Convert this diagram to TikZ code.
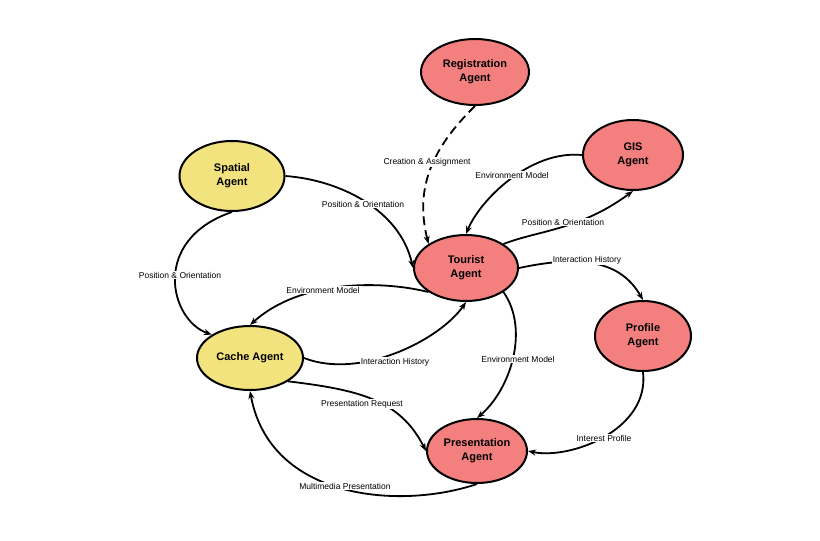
\documentclass[tikz,border=0pt]{standalone}
\usepackage{fontspec}
\setmainfont{Liberation Sans}
\usetikzlibrary{shapes.geometric,arrows.meta}
\definecolor{ag}{HTML}{F47F7F}
\definecolor{sp}{HTML}{F2E37E}
\begin{document}
\begin{tikzpicture}[x=1pt,y=-1pt,
 agent/.style={ellipse,draw=black,line width=2pt,align=center,font=\bfseries\fontsize{11}{14}\selectfont,inner sep=0pt},
 red/.style={agent,fill=ag},
 yel/.style={agent,fill=sp},
 e/.style={-{Stealth[length=8pt,width=6pt]},line width=1.8pt},
 lb/.style={fill=white,inner sep=1pt,font=\fontsize{8.5}{10}\selectfont}]
\useasboundingbox (0,0) rectangle (820,541);
\node[red,minimum width=108,minimum height=66] (reg) at (475,72) {Registration\\Agent};
\node[red,minimum width=100,minimum height=70] (gis) at (633,155) {GIS\\Agent};
\node[yel,minimum width=105,minimum height=70] (spa) at (232,176) {Spatial\\Agent};
\node[red,minimum width=104,minimum height=66] (tou) at (466,268) {Tourist\\Agent};
\node[red,minimum width=96,minimum height=70] (pro) at (643,336) {Profile\\Agent};
\node[yel,minimum width=106,minimum height=64] (cac) at (250,358) {Cache Agent};
\node[red,minimum width=100,minimum height=64] (pre) at (477,451) {Presentation\\Agent};

\draw[e,dash pattern=on 9pt off 5pt] (reg.south) .. controls (430,150) and (415,190) .. (tou.north west);
\node[lb] at (427,162) {Creation \& Assignment};
\draw[e] (tou.north east) .. controls (540,230) and (580,230) .. (gis.south);
\node[lb] at (563,222) {Position \& Orientation};
\draw[e] (gis.west) .. controls (530,150) and (480,200) .. (tou.north);
\node[lb] at (512,175) {Environment Model};
\draw[e] (spa.east) .. controls (340,180) and (400,210) .. (tou.west);
\node[lb] at (363,204) {Position \& Orientation};
\draw[e] (spa.south) .. controls (150,240) and (170,320) .. (cac.north west);
\node[lb] at (180,275) {Position \& Orientation};
\draw[e] (tou.south west) .. controls (380,280) and (300,280) .. (cac.north);
\node[lb] at (323,290) {Environment Model};
\draw[e] (cac.east) .. controls (360,380) and (440,340) .. (tou.south);
\node[lb] at (395,362) {Interaction History};
\draw[e] (tou.east) .. controls (580,255) and (620,260) .. (pro.north);
\node[lb] at (587,260) {Interaction History};
\draw[e] (tou.south east) .. controls (530,330) and (510,390) .. (pre.north);
\node[lb] at (518,359) {Environment Model};
\draw[e] (cac.south east) .. controls (360,390) and (400,400) .. (pre.west);
\node[lb] at (362,404) {Presentation Request};
\draw[e] (pro.south) .. controls (650,430) and (570,460) .. (pre.east);
\node[lb] at (604,438) {Interest Profile};
\draw[e] (pre.south) .. controls (400,510) and (270,500) .. (cac.south);
\node[lb] at (345,486) {Multimedia Presentation};
\end{tikzpicture}
\end{document}
